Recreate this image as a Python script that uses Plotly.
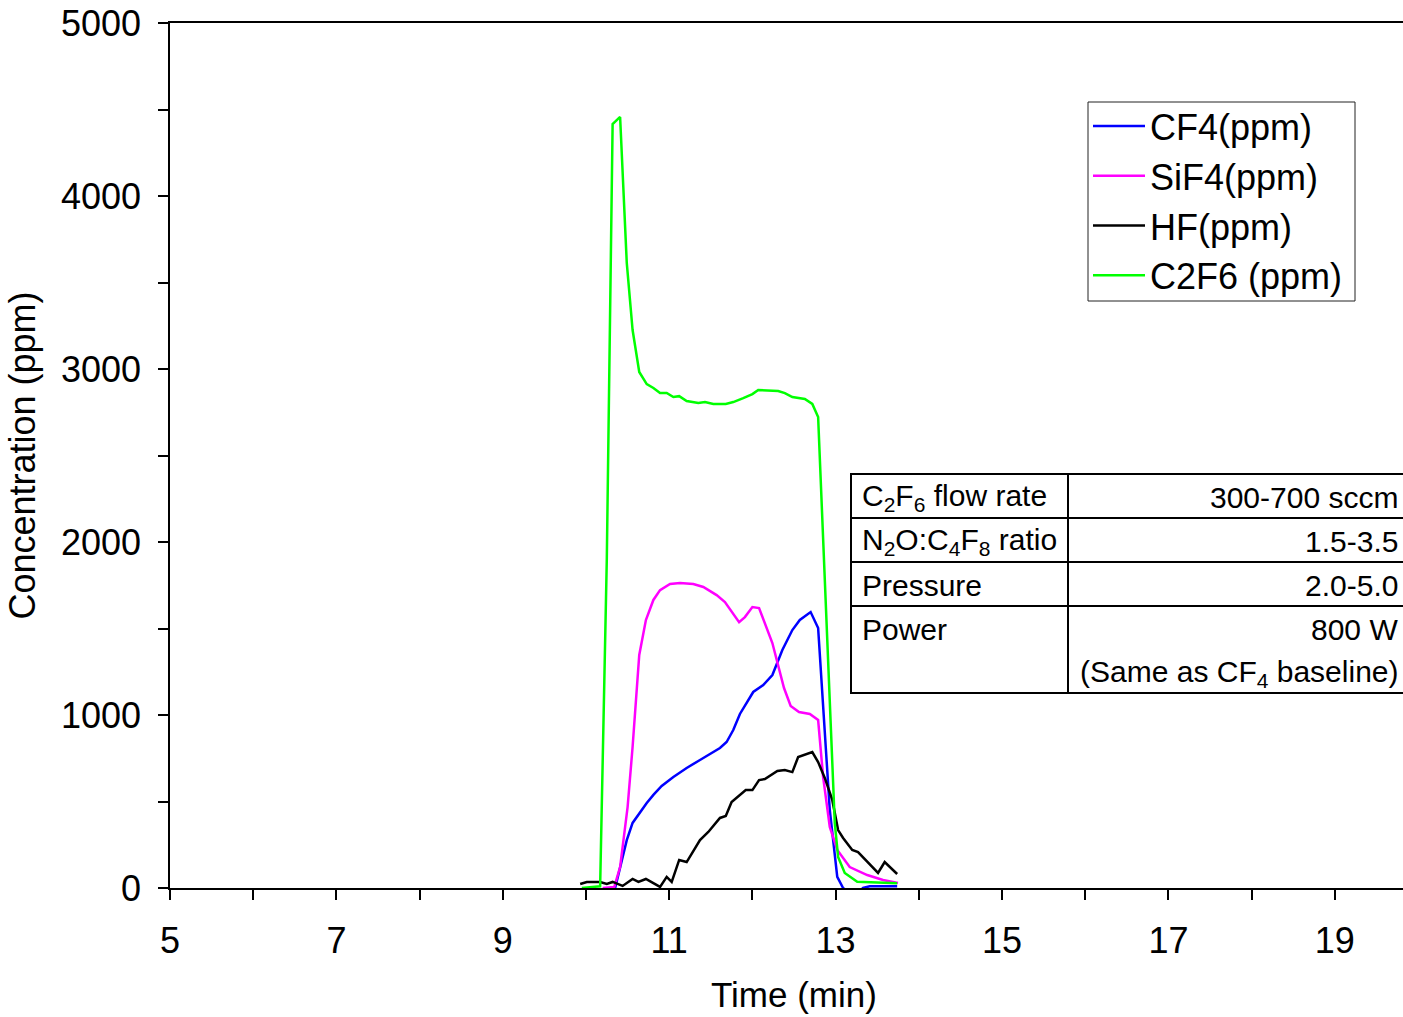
import plotly.graph_objects as go

# ---------------- data ----------------
cf4_t = [10.35, 10.41, 10.49, 10.56, 10.65, 10.73, 10.81, 10.91, 11.05, 11.21, 11.37, 11.53, 11.61,
         11.69, 11.77, 11.85, 11.94, 12.01, 12.13, 12.24, 12.36, 12.48, 12.57, 12.70, 12.79, 12.85,
         12.93, 13.02, 13.09, 13.17, 13.26, 13.33, 13.41, 13.74]
cf4_v = [0, 121, 277, 376, 439, 491, 538, 590, 642, 694, 740, 786, 809,
         844, 913, 1006, 1081, 1133, 1173, 1231, 1376, 1491, 1549, 1595, 1503, 1029,
         451, 64, 0, -30, -30, 0, 10, 10]

sif4_t = [10.20, 10.34, 10.41, 10.50, 10.56, 10.64, 10.72, 10.81, 10.89, 11.01, 11.13, 11.29, 11.41,
          11.57, 11.67, 11.84, 11.91, 12.00, 12.08, 12.24, 12.38, 12.46, 12.56, 12.69, 12.79, 12.85,
          12.93, 13.02, 13.17, 13.38, 13.57, 13.75]
sif4_v = [0, 6, 121, 468, 815, 1347, 1549, 1665, 1722, 1757, 1763, 1757, 1740,
          1693, 1653, 1537, 1566, 1624, 1618, 1416, 1156, 1052, 1017, 1006, 971, 642,
          353, 220, 121, 75, 46, 29]

hf_t = [9.93, 10.01, 10.17, 10.25, 10.32, 10.38, 10.44, 10.56, 10.63, 10.72, 10.81, 10.89, 10.97,
        11.03, 11.12, 11.21, 11.37, 11.47, 11.61, 11.68, 11.75, 11.85, 11.92, 12.00, 12.08, 12.15,
        12.30, 12.39, 12.48, 12.55, 12.72, 12.79, 12.87, 12.96, 13.03, 13.09, 13.20, 13.27, 13.51,
        13.59, 13.74]
hf_v = [23, 35, 35, 23, 35, 23, 12, 52, 35, 52, 29, 6, 64,
        35, 162, 150, 277, 324, 405, 416, 497, 538, 566, 566, 624, 630,
        676, 682, 670, 757, 786, 728, 636, 509, 335, 289, 220, 208, 87,
        150, 81]

c2f6_t = [9.95, 10.17, 10.25, 10.32, 10.41, 10.49, 10.56, 10.64, 10.73, 10.81, 10.89, 10.97, 11.05,
          11.12, 11.21, 11.35, 11.43, 11.53, 11.68, 11.77, 11.89, 12.00, 12.07, 12.31, 12.39, 12.48,
          12.63, 12.72, 12.79, 12.99, 13.03, 13.11, 13.26, 13.74]
c2f6_v = [0, 10, 1900, 4416, 4457, 3613, 3225, 2983, 2913, 2890, 2861, 2861, 2838,
          2843, 2815, 2803, 2809, 2798, 2798, 2809, 2832, 2855, 2879, 2873, 2861, 2838,
          2827, 2798, 2723, 376, 180, 87, 36, 27]

series_names = ["CF4(ppm)", "SiF4(ppm)", "HF(ppm)", "C2F6 (ppm)"]
series_colors = ["#0000FF", "#FF00FF", "#000000", "#00FF00"]

x_ticks = [5, 7, 9, 11, 13, 15, 17, 19]
y_ticks = [0, 1000, 2000, 3000, 4000, 5000]

table_left = ["C<sub>2</sub>F<sub>6</sub> flow rate", "N<sub>2</sub>O:C<sub>4</sub>F<sub>8</sub> ratio",
              "Pressure", "Power"]
table_right = ["300-700 sccm", "1.5-3.5", "2.0-5.0", "800 W", "(Same as CF<sub>4</sub> baseline)"]

# ---------------- figure ----------------
W, H = 1403, 1017
L, T, B, R = 170, 23, 888, 1403

def px(x):
    return (x - L) / (R - L)

def py(y):
    return (B - y) / (B - T)

SANS = "Liberation Sans, Arial, sans-serif"

fig = go.Figure()
for t, v, name, color in zip([cf4_t, sif4_t, hf_t, c2f6_t], [cf4_v, sif4_v, hf_v, c2f6_v],
                             series_names, series_colors):
    fig.add_trace(go.Scatter(x=t, y=v, mode="lines", name=name,
                             line=dict(color=color, width=2.5)))

fig.update_layout(
    width=W, height=H,
    margin=dict(l=L, r=W - R, t=T, b=H - B),
    paper_bgcolor="white", plot_bgcolor="white",
    showlegend=True,
    legend=dict(x=px(1088), y=py(96), xanchor="left", yanchor="top",
                bgcolor="rgba(0,0,0,0)", borderwidth=0,
                font=dict(family=SANS, size=36, color="black"),
                itemwidth=52),
)

# legend frame
fig.add_shape(type="rect", xref="paper", yref="paper", x0=px(1088), x1=px(1355), y0=py(301), y1=py(102),
              line=dict(color="#222222", width=1), fillcolor="white", layer="below")

fig.update_xaxes(
    range=[5, 5 + (R - L) / 83.2], tickmode="array", tickvals=x_ticks,
    ticks="outside", ticklen=10, tickwidth=1.5, tickcolor="black",
    minor=dict(dtick=1, tick0=5, ticks="outside", ticklen=10, tickwidth=1.5, tickcolor="black"),
    showline=True, linecolor="black", linewidth=2, mirror=True,
    showgrid=False, zeroline=False,
    tickfont=dict(family=SANS, size=36, color="black"), ticklabelstandoff=10,
)
fig.update_yaxes(
    range=[0, 5000], tickmode="array", tickvals=y_ticks,
    ticks="outside", ticklen=10, tickwidth=1.5, tickcolor="black",
    minor=dict(dtick=500, tick0=0, ticks="outside", ticklen=10, tickwidth=1.5, tickcolor="black"),
    showline=True, linecolor="black", linewidth=1.5,
    showgrid=False, zeroline=False,
    tickfont=dict(family=SANS, size=36, color="black"), ticklabelstandoff=10,
    title=dict(text="Concentration (ppm)", font=dict(family=SANS, size=36, color="black"), standoff=14),
)

# x-axis title
fig.add_annotation(xref="paper", yref="paper", x=px(794), y=py(1016), text="Time (min)", showarrow=False,
                   xanchor="center", yanchor="bottom", font=dict(family=SANS, size=35, color="black"))

# ---------------- parameter table ----------------
tl, tr, tcol = 851, 1410, 1068
rows = [474, 518, 562, 606, 693]
lw = 2
fig.add_shape(type="rect", xref="paper", yref="paper", x0=px(tl), x1=px(tr), y0=py(rows[-1]), y1=py(rows[0]),
              line=dict(color="black", width=lw), fillcolor="white", layer="above")
for ry in rows[1:-1]:
    fig.add_shape(type="line", xref="paper", yref="paper", x0=px(tl), x1=px(tr), y0=py(ry), y1=py(ry),
                  line=dict(color="black", width=lw))
fig.add_shape(type="line", xref="paper", yref="paper", x0=px(tcol), x1=px(tcol), y0=py(rows[0]), y1=py(rows[-1]),
              line=dict(color="black", width=lw))

left_y = [497, 541, 585, 629]
right_y = [497, 541, 585, 629, 673]
for txt, yy in zip(table_left, left_y):
    fig.add_annotation(xref="paper", yref="paper", x=px(860), y=py(yy), text=txt, showarrow=False,
                       xanchor="left", yanchor="middle", font=dict(family=SANS, size=30, color="black"))
for txt, yy in zip(table_right, right_y):
    fig.add_annotation(xref="paper", yref="paper", x=px(1400), y=py(yy), text=txt, showarrow=False,
                       xanchor="right", yanchor="middle", font=dict(family=SANS, size=30, color="black"))

fig.write_html("out.html")
